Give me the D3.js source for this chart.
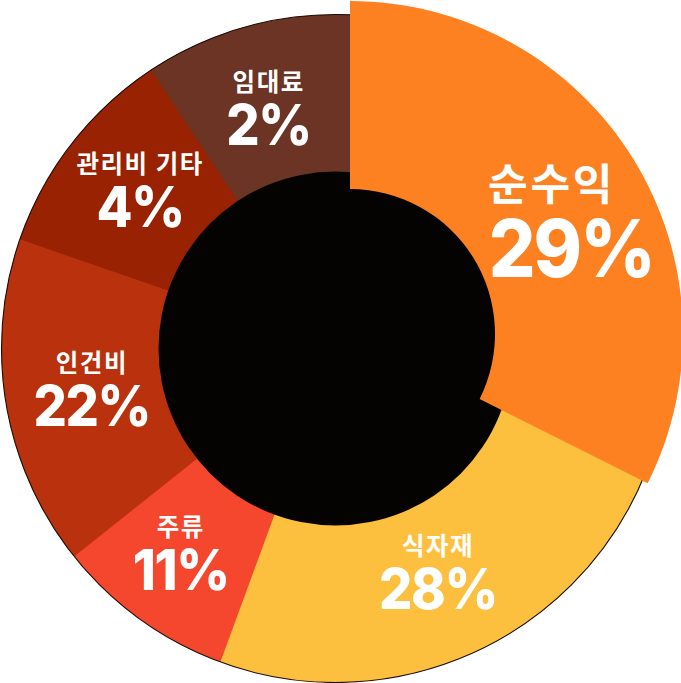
<!DOCTYPE html>
<html>
<head>
<meta charset="utf-8">
<script src="https://cdn.jsdelivr.net/npm/d3@7"></script>
<style>
  html, body { margin: 0; padding: 0; background: #ffffff; overflow: hidden; }
  svg { display: block; }
</style>
</head>
<body>
<svg id="chart" width="681" height="683"></svg>
<script>
// ---------- data ----------
const categories    = ["순수익", "식자재", "주류", "인건비", "관리비 기타", "임대료"];
const percentLabels = [29, 28, 11, 22, 4, 2];
// share of the full circle each slice occupies in the drawing (percent)
const ringShares    = [32.4, 23.2, 8.7, 16.0, 10.4, 9.3];
const sliceColors   = ["#FE8121", "#FDBF3E", "#F4472D", "#B9320D", "#982202", "#6B3424"];

// ---------- layout ----------
const W = 681, H = 683;
const cx = 335.5, cy = 348.5;
const outerR = 334, holeR = 177;
const explodedIndex = 0;
const explode = { dx: 14.5, dy: -14.5, inner: 145, outer: 333 };
const tuck = 10 * Math.PI / 180;    // overlap hidden under the exploded slice
const seam = 0.6 * Math.PI / 180;   // anti-alias overlap between neighbours
const labelR = 252, labelRExploded = 240;
const labelNudge = [[6, 12], [9, -10], [-8, 1], [4, -2], [3, -4], [5, 1]];
const lineShift  = [[-10, 10], [0, 0], [0, 0], [0, 0], [0, 0], [0, 0]];
const nameSize = 24.5, nameSpacing = 1.5;
const pctSize = 57, pctSquash = 0.92, pctSpacing = -1.5;
const bigScale = [1.76, 1.4];

const data = categories.map((c, i) => ({
  name: c, pct: percentLabels[i], share: ringShares[i], color: sliceColors[i], i
}));

const pie = d3.pie().sort(null).value(d => d.share);
const slices = pie(data);
const n = slices.length;

const svg = d3.select("#chart").attr("viewBox", `0 0 ${W} ${H}`);
const g = svg.append("g").attr("transform", `translate(${cx},${cy})`);

// main ring (all slices except the exploded one)
const ringArc = d3.arc()
  .innerRadius(holeR - 12)
  .outerRadius(outerR)
  .startAngle(d => {
    const prev = (d.data.i - 1 + n) % n;
    return prev === explodedIndex ? d.startAngle - tuck : d.startAngle;
  })
  .endAngle(d => {
    const next = (d.data.i + 1) % n;
    return next === explodedIndex ? d.endAngle + tuck : d.endAngle + seam;
  });

g.append("g").selectAll("path")
  .data(slices.filter(d => d.data.i !== explodedIndex))
  .join("path")
  .attr("d", ringArc)
  .attr("fill", d => d.data.color);

// thin dark rim around the ring
g.append("circle")
  .attr("r", outerR)
  .attr("fill", "none")
  .attr("stroke", "#1b0c04")
  .attr("stroke-width", 1.1);

// black centre
g.append("circle")
  .attr("r", holeR)
  .attr("fill", "#050302");

// exploded slice
const exArc = d3.arc().innerRadius(explode.inner).outerRadius(explode.outer);
const ex = slices[explodedIndex];
const exG = g.append("g").attr("transform", `translate(${explode.dx},${explode.dy})`);
exG.append("path").attr("d", exArc(ex)).attr("fill", ex.data.color);

// labels
const labelArc = d3.arc().innerRadius(labelR).outerRadius(labelR);
const labelArcEx = d3.arc().innerRadius(labelRExploded).outerRadius(labelRExploded);

slices.forEach(d => {
  const i = d.data.i;
  const isEx = i === explodedIndex;
  let [x, y] = isEx ? labelArcEx.centroid(d) : labelArc.centroid(d);
  if (isEx) { x += explode.dx; y += explode.dy; }
  x += labelNudge[i][0]; y += labelNudge[i][1];
  const k1 = isEx ? bigScale[0] : 1;
  const k2 = isEx ? bigScale[1] : 1;
  const lg = g.append("g").attr("transform", `translate(${x},${y})`);
  lg.append("text")
    .attr("x", lineShift[i][0] + nameSpacing * k1 / 2)
    .attr("y", isEx ? -20 : -17.5)
    .attr("text-anchor", "middle")
    .attr("fill", "#ffffff")
    .attr("font-family", "'Noto Sans CJK KR', 'Noto Sans', sans-serif")
    .attr("font-weight", 700)
    .attr("font-size", nameSize * k1)
    .attr("letter-spacing", nameSpacing * k1)
    .text(d.data.name);
  lg.append("g")
    .attr("transform", `translate(${lineShift[i][1]},${isEx ? 57 : 36.5}) scale(${pctSquash},1)`)
    .append("text")
    .attr("x", -pctSpacing * k2 / 2)
    .attr("text-anchor", "middle")
    .attr("fill", "#ffffff")
    .attr("font-family", "Inter, 'Noto Sans', sans-serif")
    .attr("font-weight", 800)
    .attr("font-size", pctSize * k2)
    .attr("letter-spacing", pctSpacing * k2)
    .text(d.data.pct + "%");
});
</script>
</body>
</html>
